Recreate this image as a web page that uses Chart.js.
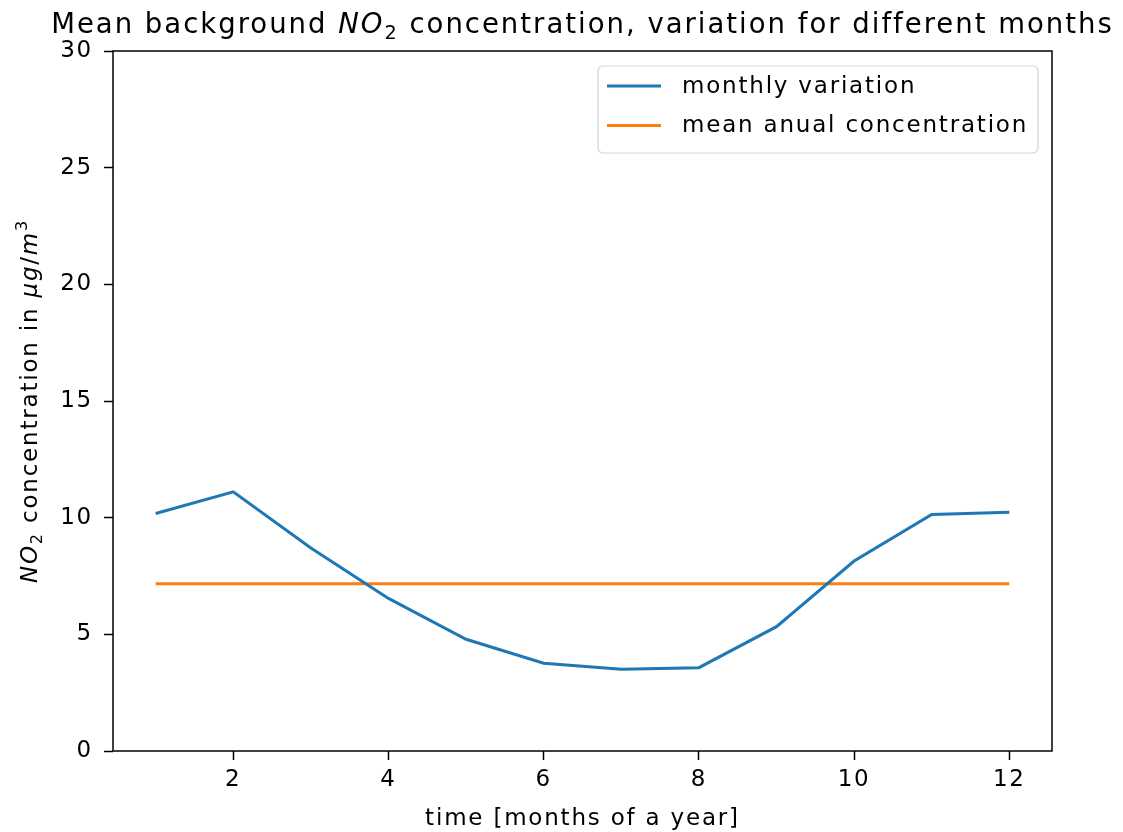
<!DOCTYPE html>
<html>
<head>
<meta charset="utf-8">
<script src="https://cdn.jsdelivr.net/npm/chart.js@4/dist/chart.umd.min.js"></script>
<style>
  html, body { margin: 0; padding: 0; background: #fff; }
  #wrap { width: 1123px; height: 832px; position: relative; }
</style>
</head>
<body>
<div id="wrap"><canvas id="chart"></canvas></div>
<script>
// monthly NO2 background data (µg/m3)
const months = [1, 2, 3, 4, 5, 6, 7, 8, 9, 10, 11, 12];
const monthlyNO2 = [10.18, 11.11, 8.70, 6.54, 4.79, 3.76, 3.50, 3.57, 5.33, 8.14, 10.14, 10.23];
const meanAnnual = 7.17;
const xTicks = [2, 4, 6, 8, 10, 12];
const yTicks = [0, 5, 10, 15, 20, 25, 30];

const FONT = "'DejaVu Sans', sans-serif";
const TICK_SIZE = 23;
const SPACING = '1.8px';

// draw text made of pieces (italic, subscript, superscript)
function drawRich(ctx, parts, x, y, size, align, spacing) {
  const font = (p) => (p.italic ? 'italic ' : '') + (p.sub || p.sup ? size * 0.7 : size) + 'px ' + FONT;
  ctx.letterSpacing = spacing || SPACING;
  let total = 0;
  parts.forEach(p => { ctx.font = font(p); total += ctx.measureText(p.t).width; });
  let cx = align === 'center' ? x - total / 2 : x;
  ctx.textAlign = 'left';
  ctx.textBaseline = 'alphabetic';
  parts.forEach(p => {
    ctx.font = font(p);
    let dy = 0;
    if (p.sub) dy = size * 0.2;
    if (p.sup) dy = -size * 0.42;
    ctx.fillText(p.t, cx, y + dy);
    cx += ctx.measureText(p.t).width;
  });
}

const titleParts = [
  { t: 'Mean background ' },
  { t: 'NO', italic: true },
  { t: '2', sub: true },
  { t: ' concentration, variation for different months' }
];
const yLabelParts = [
  { t: 'NO', italic: true },
  { t: '2', sub: true },
  { t: ' concentration in ' },
  { t: 'μg', italic: true },
  { t: '/' },
  { t: 'm', italic: true },
  { t: '3', sup: true }
];

// axes frame, titles and legend box
const decorations = {
  id: 'decorations',
  beforeDraw(chart) {
    chart.ctx.letterSpacing = SPACING;
  },
  afterDatasetsDraw(chart) {
    const ctx = chart.ctx;
    const a = chart.chartArea;
    ctx.save();
    ctx.strokeStyle = '#000';
    ctx.lineWidth = 1.5;
    ctx.strokeRect(a.left, a.top, a.right - a.left, a.bottom - a.top);

    ctx.fillStyle = '#000';
    const cx = (a.left + a.right) / 2;
    drawRich(ctx, titleParts, cx, 33, 27.5, 'center', '2px');
    drawRich(ctx, [{ t: 'time [months of a year]' }], cx, 825, TICK_SIZE, 'center');

    ctx.save();
    ctx.translate(37, (a.top + a.bottom) / 2);
    ctx.rotate(-Math.PI / 2);
    drawRich(ctx, yLabelParts, 0, 0, TICK_SIZE, 'center');
    ctx.restore();

    // legend
    const bx = 598, by = 66, bw = 440, bh = 87;
    ctx.beginPath();
    ctx.roundRect(bx, by, bw, bh, 5);
    ctx.fillStyle = 'rgba(255,255,255,0.8)';
    ctx.fill();
    ctx.strokeStyle = '#d5d5d5';
    ctx.lineWidth = 1.2;
    ctx.stroke();
    chart.data.datasets.forEach((ds, i) => {
      const ly = 86 + i * 39.5;
      ctx.beginPath();
      ctx.moveTo(607, ly);
      ctx.lineTo(661, ly);
      ctx.strokeStyle = ds.borderColor;
      ctx.lineWidth = 3;
      ctx.stroke();
      ctx.fillStyle = '#000';
      ctx.font = TICK_SIZE + 'px ' + FONT;
      ctx.letterSpacing = SPACING;
      ctx.textAlign = 'left';
      ctx.textBaseline = 'middle';
      ctx.fillText(ds.label, 682, ly + 1);
    });
    ctx.restore();
  },
  afterDraw(chart) {
    chart.ctx.letterSpacing = '0px';
  }
};

const config = {
  type: 'line',
  data: {
    datasets: [
      {
        label: 'monthly variation',
        data: months.map((m, i) => ({ x: m, y: monthlyNO2[i] })),
        borderColor: '#1f77b4',
        borderWidth: 3,
        pointRadius: 0,
        tension: 0,
      },
      {
        label: 'mean anual concentration',
        data: [{ x: months[0], y: meanAnnual }, { x: months[months.length - 1], y: meanAnnual }],
        borderColor: '#ff7f0e',
        borderWidth: 3,
        pointRadius: 0,
      },
    ],
  },
  options: {
    responsive: false,
    animation: false,
    events: [],
    layout: { padding: { top: 51, right: 71, left: 0, bottom: 0 } },
    scales: {
      x: {
        type: 'linear',
        min: 0.45,
        max: 12.55,
        afterBuildTicks: (s) => { s.ticks = xTicks.map(v => ({ value: v })); },
        afterFit: (s) => { s.height = 81; },
        grid: { drawOnChartArea: false, tickLength: 9, tickWidth: 1.5, tickColor: '#000' },
        border: { display: false },
        ticks: { color: '#000', font: { family: FONT, size: TICK_SIZE }, padding: 6, maxRotation: 0 },
      },
      y: {
        min: 0,
        max: 30,
        afterBuildTicks: (s) => { s.ticks = yTicks.map(v => ({ value: v })); },
        afterFit: (s) => { s.width = 113; },
        grid: { drawOnChartArea: false, tickLength: 9, tickWidth: 1.5, tickColor: '#000' },
        border: { display: false },
        ticks: { color: '#000', font: { family: FONT, size: TICK_SIZE }, padding: 11 },
      },
    },
    plugins: {
      legend: { display: false },
      title: { display: false },
      tooltip: { enabled: false },
    },
  },
  plugins: [decorations],
};

const canvas = document.getElementById('chart');
canvas.width = 1123;
canvas.height = 832;
const myChart = new Chart(canvas, config);
</script>
</body>
</html>
